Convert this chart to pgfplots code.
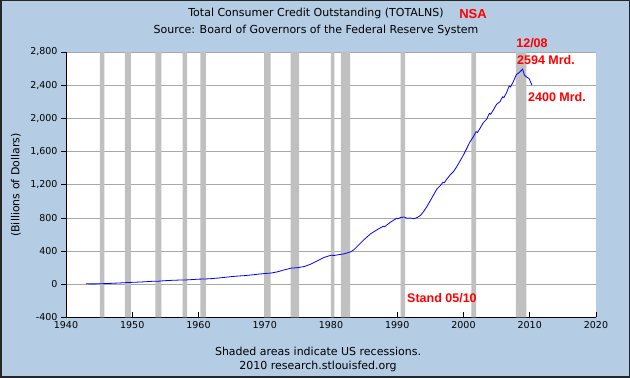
\documentclass[border=0pt]{standalone}
\usepackage{pgfplots}
\pgfplotsset{compat=1.18}
\usepackage{fontspec}
\setmainfont{DejaVu Sans}
\newfontfamily\redfont{Liberation Sans}
\definecolor{bgblue}{RGB}{180,204,228}
\definecolor{recgray}{RGB}{192,192,192}
\definecolor{gridgray}{RGB}{168,168,168}
\begin{document}
\begin{tikzpicture}[x=1pt,y=1pt]
\fill[bgblue] (0,0) rectangle (630,378);
\draw[black!85, line width=1.5pt] (0.75,0.75) rectangle (629.25,377.25);
\begin{axis}[
  at={(66pt,60.5pt)}, anchor=south west, scale only axis,
  width=530pt, height=265.5pt,
  xmin=1940, xmax=2020, ymin=-400, ymax=2800,
  axis background/.style={fill=white},
  axis lines=left,
  axis line style={-, black, line width=0.8pt},
  every outer x axis line/.append style={-},
  every outer y axis line/.append style={-},
  xtick={1940,1950,...,2020}, ytick={-400,0,...,2800},
  xtick align=inside, ytick align=outside,
  major tick length=5pt,
  tick style={black, line width=0.8pt},
  ymajorgrids, major grid style={gridgray, line width=0.8pt},
  /pgf/number format/assume math mode=true,
  ticklabel style={font=\fontsize{9.5}{11}\selectfont},
  x tick label style={/pgf/number format/1000 sep={}},
  y tick label style={/pgf/number format/1000 sep={,}},
  clip=true,
]
% recessions
\addplot[fill=recgray, draw=none, forget plot] coordinates {(1945.1,-400) (1945.1,2800) (1945.8,2800) (1945.8,-400) (1945.1,-400)};
\addplot[fill=recgray, draw=none, forget plot] coordinates {(1948.9,-400) (1948.9,2800) (1949.8,2800) (1949.8,-400) (1948.9,-400)};
\addplot[fill=recgray, draw=none, forget plot] coordinates {(1953.5,-400) (1953.5,2800) (1954.4,2800) (1954.4,-400) (1953.5,-400)};
\addplot[fill=recgray, draw=none, forget plot] coordinates {(1957.6,-400) (1957.6,2800) (1958.3,2800) (1958.3,-400) (1957.6,-400)};
\addplot[fill=recgray, draw=none, forget plot] coordinates {(1960.3,-400) (1960.3,2800) (1961.1,2800) (1961.1,-400) (1960.3,-400)};
\addplot[fill=recgray, draw=none, forget plot] coordinates {(1969.9,-400) (1969.9,2800) (1970.9,2800) (1970.9,-400) (1969.9,-400)};
\addplot[fill=recgray, draw=none, forget plot] coordinates {(1973.9,-400) (1973.9,2800) (1975.2,2800) (1975.2,-400) (1973.9,-400)};
\addplot[fill=recgray, draw=none, forget plot] coordinates {(1980.0,-400) (1980.0,2800) (1980.5,2800) (1980.5,-400) (1980.0,-400)};
\addplot[fill=recgray, draw=none, forget plot] coordinates {(1981.5,-400) (1981.5,2800) (1982.9,2800) (1982.9,-400) (1981.5,-400)};
\addplot[fill=recgray, draw=none, forget plot] coordinates {(1990.5,-400) (1990.5,2800) (1991.2,2800) (1991.2,-400) (1990.5,-400)};
\addplot[fill=recgray, draw=none, forget plot] coordinates {(2001.2,-400) (2001.2,2800) (2001.9,2800) (2001.9,-400) (2001.2,-400)};
\addplot[fill=recgray, draw=none, forget plot] coordinates {(2007.9,-400) (2007.9,2800) (2009.5,2800) (2009.5,-400) (2007.9,-400)};
% consumer credit
\addplot[blue, line width=0.8pt, mark=none] coordinates {
(1943.0,6) (1944.0,5) (1945.0,6) (1946.0,9) (1947.0,12) (1948.0,16) (1949.0,20)
(1950.0,24) (1951.0,27) (1952.0,31) (1953.0,36) (1954.0,38) (1955.0,44) (1956.0,48)
(1957.0,51) (1958.0,52) (1959.0,57) (1960.0,62) (1961.0,64) (1962.0,69) (1963.0,76)
(1964.0,84) (1965.0,93) (1966.0,100) (1967.0,105) (1968.0,113) (1969.0,122) (1970.0,130)
(1971.0,136) (1972.0,152) (1973.0,175) (1974.0,195) (1975.0,201) (1976.0,215) (1977.0,245)
(1978.0,285) (1979.0,325) (1980.0,350) (1980.5,348) (1981.0,355) (1982.0,368) (1983.0,392)
(1983.5,420) (1984.0,460) (1985.0,540) (1986.0,610) (1986.5,635) (1987.0,660) (1987.9,700) (1988.1,695)
(1989.0,750) (1989.9,795) (1990.1,790) (1990.5,805) (1991.0,812) (1991.5,795) (1992.0,800) (1992.5,790)
(1993.0,805) (1993.5,830) (1994.0,880) (1994.5,940) (1995.0,1010) (1995.5,1080) (1996.0,1150)
(1996.5,1190) (1996.9,1230) (1997.1,1225) (1997.5,1270) (1998.0,1320) (1998.5,1360) (1999.0,1420)
(1999.5,1490) (2000.0,1560) (2000.5,1640) (2001.0,1720) (2001.5,1780) (2001.9,1840) (2002.1,1830)
(2002.5,1880) (2003.0,1950) (2003.5,1990) (2003.9,2060) (2004.1,2050) (2004.5,2100) (2005.0,2170)
(2005.5,2200) (2005.9,2260) (2006.1,2250) (2006.5,2310) (2006.9,2390) (2007.1,2380) (2007.5,2440) (2008.0,2530)
(2008.3,2545) (2008.5,2560) (2008.92,2594) (2009.2,2520) (2009.5,2500) (2009.9,2480)
(2010.33,2400)
};
\end{axis}
\node[font=\fontsize{11}{13}\selectfont] at (316,365) {Total Consumer Credit Outstanding (TOTALNS)};
\node[font=\fontsize{11}{13}\selectfont] at (316,348) {Source: Board of Governors of the Federal Reserve System};
\node[font=\redfont\bfseries\fontsize{13}{15}\selectfont, text=red] at (473,364) {NSA};
\node[font=\redfont\bfseries\fontsize{12.5}{15}\selectfont, text=red] at (532,335) {12/08};
\node[font=\redfont\bfseries\fontsize{12.5}{15}\selectfont, text=red, anchor=west, inner sep=0pt] at (517,318) {2594 Mrd.};
\node[font=\redfont\bfseries\fontsize{12.5}{15}\selectfont, text=red, anchor=west, inner sep=0pt] at (528,281) {2400 Mrd.};
\node[font=\redfont\bfseries\fontsize{12.5}{15}\selectfont, text=red, anchor=west, inner sep=0pt] at (407,80) {Stand 05/10};
\node[font=\fontsize{11}{13}\selectfont, rotate=90] at (16,193) {(Billions of Dollars)};
\node[font=\fontsize{11}{13}\selectfont] at (318,27) {Shaded areas indicate US recessions.};
\node[font=\fontsize{11}{13}\selectfont] at (318,12) {2010 research.stlouisfed.org};
\end{tikzpicture}
\end{document}
